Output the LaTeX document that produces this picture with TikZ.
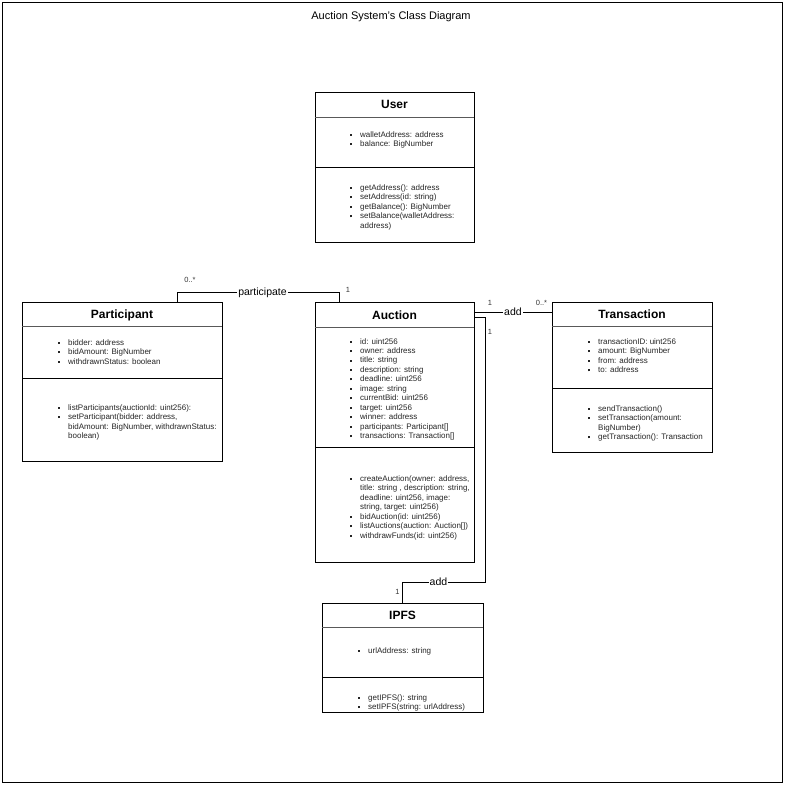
\documentclass[tikz,border=0pt]{standalone}
\usepackage{fontspec}
\setmainfont{Liberation Sans}
\usetikzlibrary{calc}

% small square list bullet and a two-column member list
\newcommand{\sqb}{\rule[1.4pt]{2pt}{2pt}}
\newcommand{\memlist}[1]{\begin{tabular}[t]{@{}l@{\hspace{8pt}}l@{}}#1\end{tabular}}

\tikzset{
  classbox/.style={draw=black, line width=1pt, fill=white, inner sep=0pt, outer sep=0pt, anchor=north west},
  sepline/.style={draw=black!65, line width=1pt},
  divline/.style={draw=black, line width=1pt},
  ctitle/.style={anchor=base, inner sep=0pt, font=\fontsize{12}{14}\selectfont\bfseries},
  members/.style={anchor=base west, inner sep=0pt, text=black!85, font=\fontsize{8}{9.6}\selectfont},
  assoc/.style={draw=black, line width=1pt},
  assoclabel/.style={anchor=base, fill=white, inner sep=1pt, font=\fontsize{10.5}{12}\selectfont},
  mult/.style={inner sep=0pt, text=black!80, font=\fontsize{7.5}{9}\selectfont},
}

\begin{document}
\begin{tikzpicture}[x=1pt, y=-1pt]
\useasboundingbox (0,0) rectangle (785,785);
\draw[line width=1pt] (2.5,2.5) rectangle (782.5,782.5);

\node[anchor=base, inner sep=0pt, font=\fontsize{11}{13}\selectfont] (heading) at (391,19.5) {Auction System's Class Diagram};

% ---- User ----
\node[classbox, minimum width=159pt, minimum height=150pt] (user) at (315,92) {};
\draw[sepline] ($(user.north west)+(0,25)$) -- ($(user.north east)+(0,25)$);
\draw[divline] ($(user.north west)+(0,75)$) -- ($(user.north east)+(0,75)$);
\node[ctitle] (usert) at ($(user.north)+(0,16.7)$) {User};
\node[members] (usera) at (350,137) {\memlist{%
  \sqb & walletAddress: address\\
  \sqb & balance: BigNumber}};
\node[members] (userm) at (350,190) {\memlist{%
  \sqb & getAddress(): address\\
  \sqb & setAddress(id: string)\\
  \sqb & getBalance(): BigNumber\\
  \sqb & setBalance(walletAddress:\\
       & address)}};

% ---- Participant ----
\node[classbox, minimum width=200pt, minimum height=159.5pt] (part) at (22,302) {};
\draw[sepline] ($(part.north west)+(0,24)$) -- ($(part.north east)+(0,24)$);
\draw[divline] ($(part.north west)+(0,76)$) -- ($(part.north east)+(0,76)$);
\node[ctitle] (partt) at ($(part.north)+(0,16.5)$) {Participant};
\node[members] (parta) at (58,345) {\memlist{%
  \sqb & bidder: address\\
  \sqb & bidAmount: BigNumber\\
  \sqb & withdrawnStatus: boolean}};
\node[members] (partm) at (58,410) {\memlist{%
  \sqb & listParticipants(auctionId: uint256):\\
  \sqb & setParticipant(bidder: address,\\
       & bidAmount: BigNumber, withdrawnStatus:\\
       & boolean)}};

% ---- Auction ----
\node[classbox, minimum width=159pt, minimum height=260.5pt] (auc) at (315,302) {};
\draw[sepline] ($(auc.north west)+(0,25)$) -- ($(auc.north east)+(0,25)$);
\draw[divline] ($(auc.north west)+(0,145)$) -- ($(auc.north east)+(0,145)$);
\node[ctitle] (auct) at ($(auc.north)+(0,17)$) {Auction};
\node[members, font=\fontsize{8}{9.45}\selectfont] (auca) at (350,344) {\memlist{%
  \sqb & id: uint256\\
  \sqb & owner: address\\
  \sqb & title: string\\
  \sqb & description: string\\
  \sqb & deadline: uint256\\
  \sqb & image: string\\
  \sqb & currentBid: uint256\\
  \sqb & target: uint256\\
  \sqb & winner: address\\
  \sqb & participants: Participant[]\\
  \sqb & transactions: Transaction[]}};
\node[members, font=\fontsize{8}{9.5}\selectfont] (aucm) at (350,481) {\memlist{%
  \sqb & createAuction(owner: address,\\
       & title: string , description: string,\\
       & deadline: uint256, image:\\
       & string, target: uint256)\\
  \sqb & bidAuction(id: uint256)\\
  \sqb & listAuctions(auction: Auction[])\\
  \sqb & withdrawFunds(id: uint256)}};

% ---- Transaction ----
\node[classbox, minimum width=160pt, minimum height=150pt] (trans) at (552,302) {};
\draw[sepline] ($(trans.north west)+(0,24)$) -- ($(trans.north east)+(0,24)$);
\draw[divline] ($(trans.north west)+(0,86)$) -- ($(trans.north east)+(0,86)$);
\node[ctitle] (transt) at ($(trans.north)+(0,16.5)$) {Transaction};
\node[members] (transa) at (588,344) {\memlist{%
  \sqb & transactionID: uint256\\
  \sqb & amount: BigNumber\\
  \sqb & from: address\\
  \sqb & to: address}};
\node[members] (transm) at (588,411) {\memlist{%
  \sqb & sendTransaction()\\
  \sqb & setTransaction(amount:\\
       & BigNumber)\\
  \sqb & getTransaction(): Transaction}};

% ---- IPFS ----
\node[classbox, minimum width=161pt, minimum height=109pt] (ipfs) at (322,603) {};
\draw[sepline] ($(ipfs.north west)+(0,24)$) -- ($(ipfs.north east)+(0,24)$);
\draw[divline] ($(ipfs.north west)+(0,74.5)$) -- ($(ipfs.north east)+(0,74.5)$);
\node[ctitle] (ipfst) at ($(ipfs.north)+(0,16.5)$) {IPFS};
\node[members] (ipfsa) at (358,653) {\memlist{%
  \sqb & urlAddress: string}};
\node[members] (ipfsm) at (358,700) {\memlist{%
  \sqb & getIPFS(): string\\
  \sqb & setIPFS(string: urlAddress)}};

% ---- associations ----
\draw[assoc] ($(part.north west)+(155,0)$) -- ++(0,-10) -| ($(auc.north west)+(24,0)$);
\node[assoclabel] (lpart) at (262.5,295) {participate};
\node[mult] (m1) at (190,280) {0..*};
\node[mult] (m2) at (348,290) {1};

\draw[assoc] ($(auc.north east)+(0,10.5)$) -- ($(trans.north west)+(0,10.5)$);
\node[assoclabel] (ladd1) at (513,315.5) {add};
\node[mult] (m3) at (490,302.5) {1};
\node[mult] (m4) at (541.5,302.5) {0..*};

\draw[assoc] ($(auc.north east)+(0,15.5)$) -- ++(11,0) -- ++(0,264.5) -| ($(ipfs.north west)+(80,0)$);
\node[assoclabel] (ladd2) at (438.5,585) {add};
\node[mult] (m5) at (490,331.5) {1};
\node[mult] (m6) at (397.5,591.5) {1};
\end{tikzpicture}
\end{document}
